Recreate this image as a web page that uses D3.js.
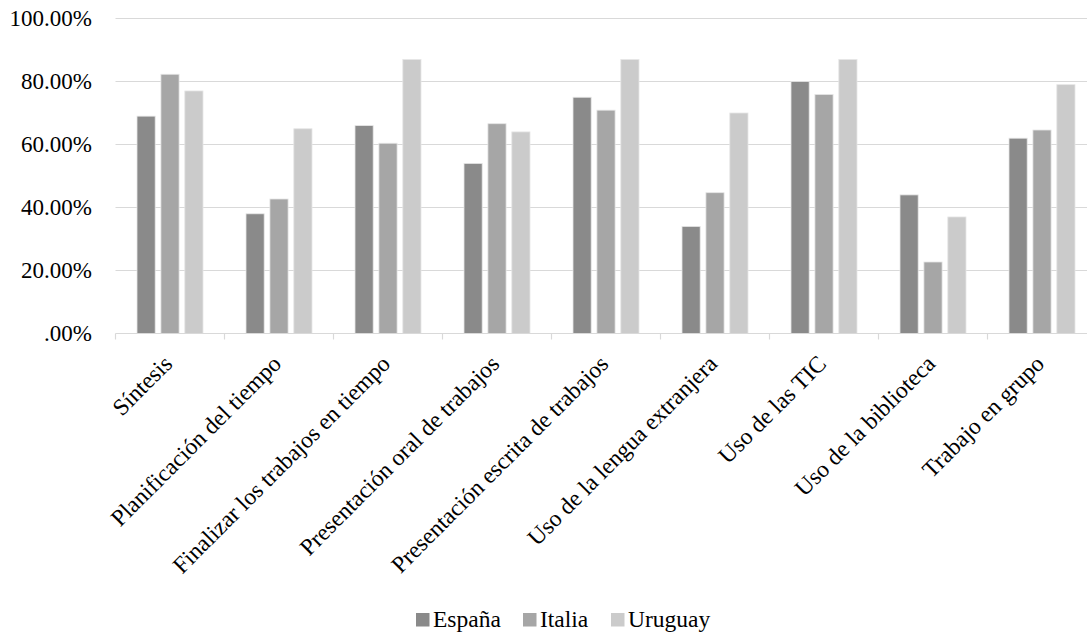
<!DOCTYPE html>
<html>
<head>
<meta charset="utf-8">
<script src="https://cdn.jsdelivr.net/npm/d3@7"></script>
<style>
  html, body { margin: 0; padding: 0; background: #fff; }
  svg { display: block; }
</style>
</head>
<body>
<svg id="chart" width="1087" height="633"></svg>
<script>
const categories = [
  "Síntesis",
  "Planificación del tiempo",
  "Finalizar los trabajos en tiempo",
  "Presentación oral de trabajos",
  "Presentación escrita de trabajos",
  "Uso de la lengua extranjera",
  "Uso de las TIC",
  "Uso de la biblioteca",
  "Trabajo en grupo"
];
const seriesNames = ["España", "Italia", "Uruguay"];
const espana  = [69, 38, 66, 54, 75, 34, 80, 44, 62];
const italia  = [82.3, 42.7, 60.4, 66.6, 70.9, 44.7, 75.9, 22.7, 64.6];
const uruguay = [77, 65, 87, 64, 87, 70, 87, 37, 79];
const yTicks = [0, 20, 40, 60, 80, 100];
const tickLabels = [".00%", "20.00%", "40.00%", "60.00%", "80.00%", "100.00%"];
const colors = ["#8a8a8a", "#a6a6a6", "#cbcbcb"];

const values = [espana, italia, uruguay];
const svg = d3.select("#chart");
const FONT = "Liberation Serif";

const x = d3.scaleBand().domain(categories).range([115.5, 1096.5]).paddingInner(0).paddingOuter(0);
const xs = d3.scaleBand().domain(seriesNames).range([21.5, 87.5]).paddingInner(0.24).paddingOuter(0);
const y = d3.scaleLinear().domain([0, 100]).range([333.5, 18.5]);

// gridlines
svg.append("g").selectAll("line").data(yTicks.filter(d => d > 0)).join("line")
  .attr("x1", 115.5).attr("x2", 1096.5)
  .attr("y1", d => y(d)).attr("y2", d => y(d))
  .attr("stroke", "#d9d9d9").attr("stroke-width", 1.2);

// y labels
svg.append("g").selectAll("text").data(yTicks).join("text")
  .attr("x", 92).attr("y", d => y(d)).attr("dy", "0.34em")
  .attr("text-anchor", "end").attr("font-size", "23px").style("font-family", FONT)
  .text((d, i) => tickLabels[i]);

// bars
const groups = svg.append("g").selectAll("g").data(categories).join("g")
  .attr("transform", d => `translate(${x(d)},0)`);
groups.selectAll("rect").data((c, ci) => seriesNames.map((s, si) => ({ s, si, v: values[si][ci] }))).join("rect")
  .attr("x", d => xs(d.s)).attr("width", xs.bandwidth())
  .attr("y", d => y(d.v)).attr("height", d => y(0) - y(d.v))
  .attr("fill", d => colors[d.si])
  .attr("stroke", "#e6e6e6").attr("stroke-width", 0.8);

// x axis
const xAxis = svg.append("g");
xAxis.append("line").attr("x1", 115.5).attr("x2", 1096.5).attr("y1", y(0)).attr("y2", y(0))
  .attr("stroke", "#d9d9d9").attr("stroke-width", 1.2);
xAxis.selectAll("line.tick").data(categories.concat(["__end"])).join("line")
  .attr("class", "tick")
  .attr("x1", (d, i) => 115.5 + i * x.step()).attr("x2", (d, i) => 115.5 + i * x.step())
  .attr("y1", y(0)).attr("y2", y(0) + 6)
  .attr("stroke", "#d9d9d9").attr("stroke-width", 1.2);

xAxis.selectAll("text").data(categories).join("text")
  .attr("transform", d => `translate(${x(d) + x.bandwidth() / 2 - 2},${y(0) + 26}) rotate(-45)`)
  .attr("text-anchor", "end").attr("dy", "0.34em")
  .attr("font-size", "23.5px").style("font-family", FONT)
  .text(d => d);

// legend
const legendItems = [
  { name: "España", sx: 416, tx: 433 },
  { name: "Italia", sx: 523, tx: 540 },
  { name: "Uruguay", sx: 611, tx: 628 }
];
const lg = svg.append("g").selectAll("g").data(seriesNames).join("g");
lg.append("rect")
  .attr("x", (d, i) => legendItems[i].sx).attr("y", 613)
  .attr("width", 13.5).attr("height", 13.5)
  .attr("fill", (d, i) => colors[i]);
lg.append("text")
  .attr("x", (d, i) => legendItems[i].tx).attr("y", 627)
  .attr("font-size", "23.5px").style("font-family", FONT)
  .text(d => d);
</script>
</body>
</html>
